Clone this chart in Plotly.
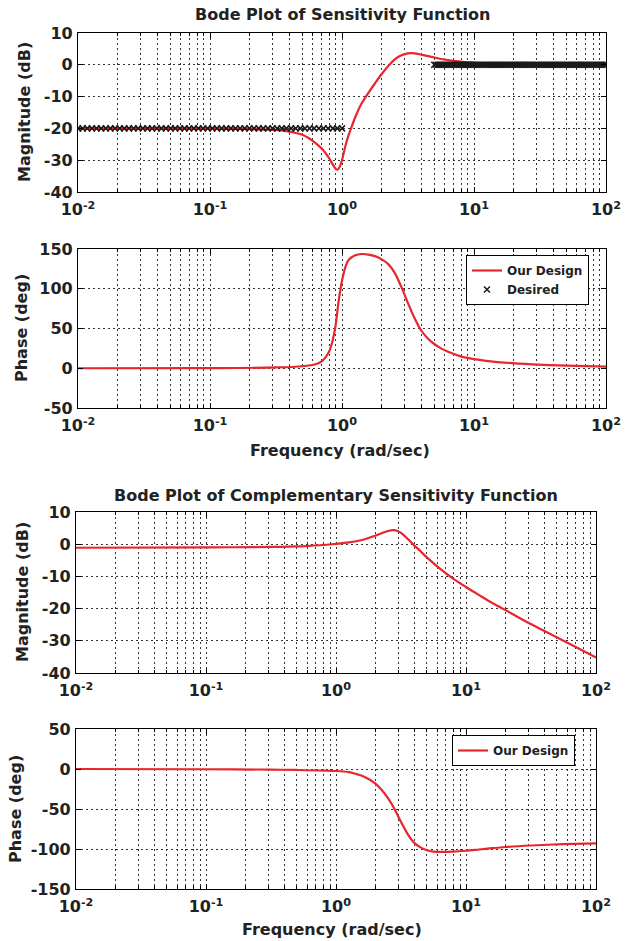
import numpy as np
import plotly.graph_objects as go

# ---------------- data ----------------
# Sensitivity function S: magnitude (dB)
S_mag_freq = [0.01, 0.03, 0.1, 0.2, 0.316, 0.398, 0.5, 0.562, 0.631, 0.708, 0.794, 0.841,
              0.891, 0.923, 0.955, 1.0, 1.06, 1.12, 1.19, 1.26, 1.33, 1.41, 1.5, 1.585,
              1.78, 2.0, 2.24, 2.51, 2.82, 3.16, 3.55, 3.98, 5.0, 6.3, 7.9, 10.0,
              15.8, 31.6, 100.0]
S_mag_db = [-20.0, -20.0, -20.0, -20.2, -20.5, -21.0, -22.0, -23.1, -24.6, -26.5, -29.2, -31.0,
            -32.6, -33.0, -32.3, -30.0, -25.6, -22.2, -19.2, -16.5, -14.2, -12.1, -10.3, -8.8,
            -5.8, -2.9, -0.4, 1.7, 3.0, 3.6, 3.6, 3.2, 2.3, 1.5, 1.0, 0.6,
            0.3, 0.1, 0.0]

# Sensitivity function S: phase (deg)
S_ph_freq = [0.01, 0.1, 0.316, 0.5, 0.631, 0.708, 0.794, 0.841, 0.891, 0.944, 1.0, 1.06,
             1.12, 1.26, 1.41, 1.585, 1.78, 2.0, 2.24, 2.51, 2.82, 3.16, 3.55, 3.98,
             4.47, 5.0, 5.62, 6.3, 7.9, 10.0, 15.8, 27.5, 50.0, 100.0]
S_ph_deg = [0.0, 0.2, 1.0, 2.5, 5.0, 9.0, 20.0, 32.0, 52.0, 85.0, 110.0, 127.0,
            136.0, 142.0, 143.7, 143.0, 141.0, 137.0, 131.0, 120.0, 102.0, 82.0, 63.0, 47.5,
            37.5, 30.5, 25.0, 21.0, 15.0, 11.5, 7.5, 5.0, 3.2, 2.0]

# Desired sensitivity (dB)
des_low_level = -20.0
des_high_level = 0.0
des_low_freq = np.logspace(-2, 0, 58)
des_high_freq = np.logspace(np.log10(5), 2, 90)

# Complementary sensitivity T: magnitude (dB)
T_mag_freq = [0.01, 0.1, 0.316, 0.5, 0.631, 0.794, 1.0, 1.26, 1.585, 2.0, 2.24, 2.51,
              2.75, 2.95, 3.16, 3.55, 3.98, 4.47, 5.0, 6.3, 7.9, 10.0, 12.6, 15.8,
              20.0, 28.2, 39.8, 56.2, 79.4, 100.0]
T_mag_db = [-1.1, -1.0, -0.85, -0.7, -0.5, -0.25, 0.1, 0.55, 1.3, 2.6, 3.4, 4.1,
            4.4, 4.2, 3.5, 1.7, -0.3, -2.2, -4.1, -7.6, -10.6, -13.3, -15.8, -18.2,
            -20.4, -23.8, -26.9, -30.0, -33.1, -35.2]

# Complementary sensitivity T: phase (deg)
T_ph_freq = [0.01, 0.1, 0.316, 0.5, 1.0, 1.26, 1.41, 1.585, 1.78, 2.0, 2.24, 2.51,
             2.82, 3.16, 3.55, 3.98, 4.47, 5.0, 5.62, 6.3, 7.9, 10.0, 12.6, 15.8,
             20.0, 31.6, 56.2, 100.0]
T_ph_deg = [0.0, -0.3, -0.8, -1.2, -2.5, -4.0, -6.0, -8.5, -12.5, -18.0, -26.0, -36.5,
            -50.0, -66.0, -81.0, -92.0, -98.0, -101.5, -103.2, -103.7, -103.3, -102.2, -100.6, -99.0,
            -97.5, -95.6, -94.0, -93.0]

decade_vals = [0.01, 0.1, 1, 10, 100]
decade_text = ["10<sup>-2</sup>", "10<sup>-1</sup>", "10<sup>0</sup>", "10<sup>1</sup>", "10<sup>2</sup>"]
minor_vals = [k * 10.0 ** d for d in [-2, -1, 0, 1] for k in range(2, 10)]
mag_ticks = [10, 0, -10, -20, -30, -40]
phase1_ticks = [150, 100, 50, 0, -50]
phase2_ticks = [50, 0, -50, -100, -150]

# ---------------- styling ----------------
W, H = 631, 941
RED = "#e8262d"
FONT = "DejaVu Sans"
TICKFONT = dict(family=FONT, size=16, color="#222222", weight="bold")
GRIDCOLOR = "#333333"
GRIDDASH = "2px,3px"


def px_x(p):
    return p / W


def px_y(p):
    return 1 - p / H


def xaxis_cfg(x0, x1, anchor):
    return dict(
        type="log", range=[-2, 2], domain=[px_x(x0), px_x(x1)], anchor=anchor,
        tickmode="array", tickvals=decade_vals, ticktext=decade_text,
        showgrid=True, gridcolor=GRIDCOLOR, gridwidth=1, griddash=GRIDDASH,
        minor=dict(tickmode="array", tickvals=minor_vals, ticks="inside", ticklen=3,
                   tickcolor="black", showgrid=True, gridcolor=GRIDCOLOR,
                   gridwidth=1, griddash=GRIDDASH),
        showline=True, linecolor="black", linewidth=1.2, mirror="ticks",
        ticks="inside", ticklen=5, tickcolor="black", tickfont=TICKFONT,
        ticklabelstandoff=3,
        zeroline=False, fixedrange=True, automargin=False,
    )


def yaxis_cfg(y_top, y_bot, rng, ticks, anchor):
    return dict(
        range=rng, domain=[px_y(y_bot), px_y(y_top)], anchor=anchor,
        tickmode="array", tickvals=ticks, ticktext=[str(t) for t in ticks],
        showgrid=True, gridcolor=GRIDCOLOR, gridwidth=1, griddash=GRIDDASH,
        showline=True, linecolor="black", linewidth=1.2, mirror="ticks",
        ticks="inside", ticklen=5, tickcolor="black", tickfont=TICKFONT,
        ticklabelstandoff=1,
        zeroline=False, fixedrange=True, automargin=False,
    )


LINE = dict(color=RED, width=2.2, shape="spline", smoothing=0.8)

fig = go.Figure()

fig.add_trace(go.Scatter(
    x=S_mag_freq, y=S_mag_db, mode="lines", name="Our Design", line=LINE,
    xaxis="x", yaxis="y", legend="legend", showlegend=True))

des_x = list(des_low_freq) + list(des_high_freq)
des_y = [des_low_level] * len(des_low_freq) + [des_high_level] * len(des_high_freq)
fig.add_trace(go.Scatter(
    x=des_x, y=des_y, mode="markers", name="Desired",
    marker=dict(symbol="x-thin", size=6, line=dict(color="#1a1a1a", width=1.5)),
    xaxis="x", yaxis="y", legend="legend", showlegend=True))

fig.add_trace(go.Scatter(
    x=S_ph_freq, y=S_ph_deg, mode="lines", name="Our Design", line=LINE,
    xaxis="x2", yaxis="y2", showlegend=False))

fig.add_trace(go.Scatter(
    x=T_mag_freq, y=T_mag_db, mode="lines", name="Our Design", line=LINE,
    xaxis="x3", yaxis="y3", showlegend=False))

fig.add_trace(go.Scatter(
    x=T_ph_freq, y=T_ph_deg, mode="lines", name="Our Design", line=LINE,
    xaxis="x4", yaxis="y4", legend="legend2", showlegend=True))

TITLE_FONT = dict(family=FONT, size=16, color="#222222", weight="bold")
annotations = []


def ann(text, x, y, angle=0):
    annotations.append(dict(text=text, x=px_x(x), y=px_y(y), xref="paper", yref="paper",
                            showarrow=False, xanchor="center", yanchor="middle",
                            textangle=angle, font=TITLE_FONT))


ann("Bode Plot of Sensitivity Function", 342, 15)
ann("Magnitude (dB)", 24, 112, -90)
ann("Phase (deg)", 22, 328, -90)
ann("Frequency (rad/sec)", 340, 451)
ann("Bode Plot of Complementary Sensitivity Function", 336, 495)
ann("Magnitude (dB)", 22, 592, -90)
ann("Phase (deg)", 15, 809, -90)
ann("Frequency (rad/sec)", 332, 929)

LEG_FONT = dict(family=FONT, size=12, color="#222222", weight="bold")

fig.update_layout(
    width=W, height=H, margin=dict(l=0, r=0, t=0, b=0, autoexpand=False),
    paper_bgcolor="white", plot_bgcolor="white",
    xaxis=xaxis_cfg(78, 606, "y"),
    yaxis=yaxis_cfg(33, 192, [-40, 10], mag_ticks, "x"),
    xaxis2=xaxis_cfg(78, 606, "y2"),
    yaxis2=yaxis_cfg(249, 408, [-50, 150], phase1_ticks, "x2"),
    xaxis3=xaxis_cfg(76, 596, "y3"),
    yaxis3=yaxis_cfg(512, 673, [-40, 10], mag_ticks, "x3"),
    xaxis4=xaxis_cfg(76, 596, "y4"),
    yaxis4=yaxis_cfg(729, 889, [-150, 50], phase2_ticks, "x4"),
    legend=dict(x=px_x(466), y=px_y(255), xanchor="left", yanchor="top",
                bgcolor="white", bordercolor="black", borderwidth=1,
                font=LEG_FONT, tracegroupgap=0, itemwidth=30),
    legend2=dict(x=px_x(452), y=px_y(735), xanchor="left", yanchor="top",
                 bgcolor="white", bordercolor="black", borderwidth=1,
                 font=LEG_FONT, itemwidth=30),
    annotations=annotations,
    showlegend=True,
)

fig.write_html("out.html")
